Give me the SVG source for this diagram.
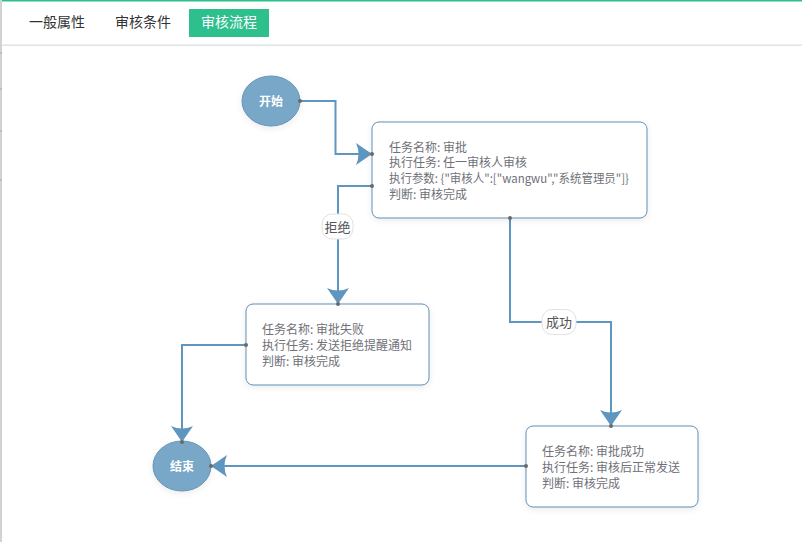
<svg xmlns="http://www.w3.org/2000/svg" width="802" height="542" viewBox="0 0 802 542">
<style>
.tab{font-family:"Noto Sans CJK SC","Liberation Sans",sans-serif;font-size:14px;fill:#333}
.tabon{font-family:"Noto Sans CJK SC","Liberation Sans",sans-serif;font-size:14px;fill:#fff}
.circ{fill:#78a7c8;stroke:#6594b8;stroke-width:1}
.ctext{font-family:"Noto Sans CJK SC","Liberation Sans",sans-serif;font-size:12px;fill:#fff;font-weight:bold}
.box{fill:#fff;stroke:#5f8fb6;stroke-width:1}
.btext{font-family:"Noto Sans CJK SC","Liberation Sans",sans-serif;font-size:12px;fill:#707078}
.conn{fill:none;stroke:#5e96bf;stroke-width:2}
.dot{fill:#6a6a6a}
.lbl{fill:#fff;stroke:#e2e2e2;stroke-width:1}
.ltext{font-family:"Noto Sans CJK SC","Liberation Sans",sans-serif;font-size:13px;fill:#555}
</style>
<defs>
<marker id="arr" markerUnits="userSpaceOnUse" markerWidth="18" markerHeight="24" viewBox="0 -12 18 24" refX="16" refY="0" orient="auto">
<path d="M16,0 L0,-11 Q5,0 0,11 Z" fill="#5e96bf"/>
</marker>
<filter id="sh" x="-20%" y="-20%" width="140%" height="150%">
<feDropShadow dx="0" dy="2" stdDeviation="3" flood-color="#000" flood-opacity="0.08"/>
</filter>
</defs>
<rect width="802" height="542" fill="#fff"/>
<rect x="0" y="0" width="802" height="1.5" fill="#2dbf8c"/>
<rect x="0" y="0" width="2" height="542" fill="#d2d2d2"/>
<g fill="#bdbdbd"><rect x="0" y="52" width="2" height="2"/><rect x="0" y="88" width="2" height="2"/><rect x="0" y="130" width="2" height="2"/><rect x="0" y="179" width="2" height="2"/></g>
<rect x="2" y="44.5" width="800" height="1.5" fill="#dde4e3"/>
<g id="tabs">
<text class="tab" x="57" y="27" text-anchor="middle">一般属性</text>
<text class="tab" x="143" y="27" text-anchor="middle">审核条件</text>
<rect x="189" y="9" width="80" height="28" fill="#2dbf8c"/>
<text class="tabon" x="229" y="27" text-anchor="middle">审核流程</text>
</g>
<g id="connectors">
<polyline class="conn" points="300,101 335.5,101 335.5,154 372,154" marker-end="url(#arr)"/>
<polyline class="conn" points="372,186 338,186 338,304" marker-end="url(#arr)"/>
<polyline class="conn" points="510,218 510,322 611,322 611,426" marker-end="url(#arr)"/>
<polyline class="conn" points="246,345 182,345 182,442" marker-end="url(#arr)"/>
<polyline class="conn" points="526,466 211,466" marker-end="url(#arr)"/>
<g id="label-reject"><rect class="lbl" x="322" y="214" width="31" height="25" rx="10"/><text class="ltext" x="337.5" y="231.5" text-anchor="middle">拒绝</text></g>
<g id="label-success"><rect class="lbl" x="542" y="309.5" width="34" height="25" rx="10"/><text class="ltext" x="559" y="327" text-anchor="middle">成功</text></g>
</g>
<g id="start">
<ellipse class="circ" cx="271" cy="101" rx="29" ry="25" filter="url(#sh)"/>
<text class="ctext" x="271" y="105.5" text-anchor="middle">开始</text>
</g>
<g id="task-approve">
<rect class="box" x="372" y="122" width="275" height="96" rx="7" filter="url(#sh)"/>
<text class="btext" x="389" y="151.5">任务名称: 审批</text>
<text class="btext" x="389" y="167">执行任务: 任一审核人审核</text>
<text class="btext" x="389" y="182.5" textLength="240" lengthAdjust="spacingAndGlyphs">执行参数: {"审核人":["wangwu","系统管理员"]}</text>
<text class="btext" x="389" y="199">判断: 审核完成</text>
</g>
<g id="task-fail">
<rect class="box" x="246" y="304" width="183" height="81" rx="7" filter="url(#sh)"/>
<text class="btext" x="262" y="334">任务名称: 审批失败</text>
<text class="btext" x="262" y="350">执行任务: 发送拒绝提醒通知</text>
<text class="btext" x="262" y="366">判断: 审核完成</text>
</g>
<g id="task-success">
<rect class="box" x="526" y="426" width="172" height="81" rx="7" filter="url(#sh)"/>
<text class="btext" x="542" y="456">任务名称: 审批成功</text>
<text class="btext" x="542" y="472">执行任务: 审核后正常发送</text>
<text class="btext" x="542" y="488">判断: 审核完成</text>
</g>
<g id="end">
<ellipse class="circ" cx="182" cy="466" rx="29" ry="25" filter="url(#sh)"/>
<text class="ctext" x="182" y="470.5" text-anchor="middle">结束</text>
</g>
<g id="dots">
<circle class="dot" cx="300" cy="101" r="2"/>
<circle class="dot" cx="372" cy="154" r="2"/>
<circle class="dot" cx="372" cy="186" r="2"/>
<circle class="dot" cx="338" cy="304" r="2"/>
<circle class="dot" cx="510" cy="218" r="2"/>
<circle class="dot" cx="611" cy="426" r="2"/>
<circle class="dot" cx="246" cy="345" r="2"/>
<circle class="dot" cx="182" cy="442" r="2"/>
<circle class="dot" cx="526" cy="466" r="2"/>
<circle class="dot" cx="211" cy="466" r="2"/>
</g>
</svg>
